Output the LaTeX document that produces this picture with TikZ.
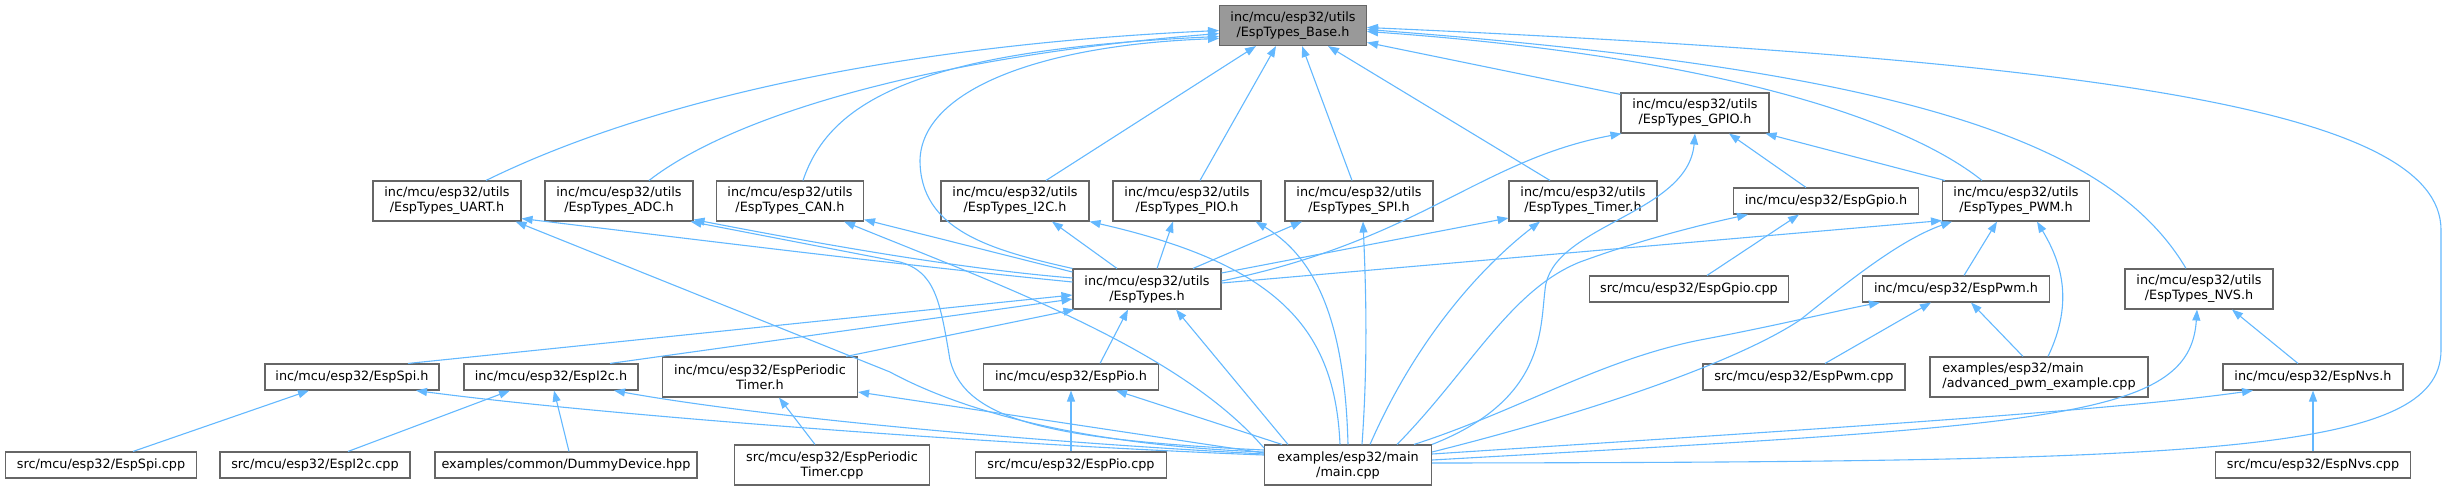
\documentclass[tikz,border=0pt]{standalone}
\usepackage{fontspec}
\setmainfont{DejaVu Sans}
\usetikzlibrary{arrows.meta}
\definecolor{boxline}{HTML}{666666}
\definecolor{basefill}{HTML}{999999}
\definecolor{edgeblue}{HTML}{63B8FF}

\begin{document}
\begin{tikzpicture}[x=1pt,y=-1pt,font=\fontsize{12.8}{15}\selectfont,f/.style={draw=boxline,line width=1.1pt,fill=white,align=center,inner xsep=2pt,inner ysep=0pt,minimum height=26pt},f2/.style={f,minimum height=40pt},e/.style={-{Triangle[length=11pt,width=8pt]},edgeblue,line width=1.1pt}]
\useasboundingbox (0,0) rectangle (2450,491);
\node[f2,fill=basefill,minimum width=147pt] (base) at (1293,25.5) {inc/mcu/esp32/utils\\/EspTypes\_Base.h};
\node[f2,minimum width=148pt] (gpio) at (1695,113) {inc/mcu/esp32/utils\\/EspTypes\_GPIO.h};
\node[f2,minimum width=148pt] (uart) at (447,201) {inc/mcu/esp32/utils\\/EspTypes\_UART.h};
\node[f2,minimum width=148pt] (adc) at (619,201) {inc/mcu/esp32/utils\\/EspTypes\_ADC.h};
\node[f2,minimum width=147pt] (can) at (790,201) {inc/mcu/esp32/utils\\/EspTypes\_CAN.h};
\node[f2,minimum width=148pt] (i2c) at (1015,201) {inc/mcu/esp32/utils\\/EspTypes\_I2C.h};
\node[f2,minimum width=148pt] (pio) at (1187,201) {inc/mcu/esp32/utils\\/EspTypes\_PIO.h};
\node[f2,minimum width=148pt] (spi) at (1359,201) {inc/mcu/esp32/utils\\/EspTypes\_SPI.h};
\node[f2,minimum width=148pt] (timer) at (1583,201) {inc/mcu/esp32/utils\\/EspTypes\_Timer.h};
\node[f,minimum width=185pt] (espgpio) at (1826,201) {inc/mcu/esp32/EspGpio.h};
\node[f2,minimum width=147pt] (pwm) at (2016,201) {inc/mcu/esp32/utils\\/EspTypes\_PWM.h};
\node[f2,minimum width=148pt] (types) at (1147,289) {inc/mcu/esp32/utils\\/EspTypes.h};
\node[f,minimum width=199pt] (gpiocpp) at (1689,289) {src/mcu/esp32/EspGpio.cpp};
\node[f,minimum width=187pt] (pwmh) at (1956,289) {inc/mcu/esp32/EspPwm.h};
\node[f2,minimum width=148pt] (nvs) at (2199,289) {inc/mcu/esp32/utils\\/EspTypes\_NVS.h};
\node[f,minimum width=174pt] (spih) at (352,377) {inc/mcu/esp32/EspSpi.h};
\node[f,minimum width=174pt] (i2ch) at (551,377) {inc/mcu/esp32/EspI2c.h};
\node[f2,minimum width=195pt] (ptimerh) at (760,377) {inc/mcu/esp32/EspPeriodic\\Timer.h};
\node[f,minimum width=175pt] (pioh) at (1071,377) {inc/mcu/esp32/EspPio.h};
\node[f,minimum width=202pt] (pwmcpp) at (1804,377) {src/mcu/esp32/EspPwm.cpp};
\node[f2,minimum width=218pt,align=left] (adv) at (2039,377) {examples/esp32/main\\/advanced\_pwm\_example.cpp};
\node[f,minimum width=180pt] (nvsh) at (2313,377) {inc/mcu/esp32/EspNvs.h};
\node[f,minimum width=191pt] (spicpp) at (101,465) {src/mcu/esp32/EspSpi.cpp};
\node[f,minimum width=190pt] (i2ccpp) at (315,465) {src/mcu/esp32/EspI2c.cpp};
\node[f,minimum width=262pt] (dummy) at (566,465) {examples/common/DummyDevice.hpp};
\node[f2,minimum width=195pt] (ptimercpp) at (832,465) {src/mcu/esp32/EspPeriodic\\Timer.cpp};
\node[f,minimum width=191pt] (piocpp) at (1071,465) {src/mcu/esp32/EspPio.cpp};
\node[f2,minimum width=167pt] (main) at (1348,465) {examples/esp32/main\\/main.cpp};
\node[f,minimum width=195pt] (nvscpp) at (2313,465) {src/mcu/esp32/EspNvs.cpp};
\draw[e] ([xshift=39pt]uart.north) .. controls (650,100) and (900,45) .. ([yshift=-5pt]base.west);
\draw[e] ([xshift=30pt]adc.north) .. controls (740,110) and (950,55) .. ([yshift=-8pt]base.west);
\draw[e] ([xshift=13pt]can.north) .. controls (830,100) and (920,50) .. ([yshift=-11pt]base.west);
\draw[e] (types.north west) .. controls (990,250) and (920,230) .. (920,160) .. controls (922,90) and (1040,45) .. ([yshift=-13pt]base.west);
\draw[e] ([xshift=31pt]i2c.north) -- ([xshift=-37pt]base.south);
\draw[e] ([xshift=13pt]pio.north) -- ([xshift=-17pt]base.south);
\draw[e] ([xshift=-7pt]spi.north) -- ([xshift=9pt]base.south);
\draw[e] ([xshift=-33pt]timer.north) -- ([xshift=35pt]base.south);
\draw[e] ([yshift=-2pt]gpio.north west) -- ([yshift=-17pt]base.east);
\draw[e] ([xshift=-34pt]pwm.north) .. controls (1900,115) and (1700,55) .. ([yshift=-6pt]base.east);
\draw[e] ([xshift=-13pt]nvs.north) .. controls (2110,140) and (1900,70) .. ([yshift=-4pt]base.east);
\draw[e] ([yshift=2pt]main.east) .. controls (2200,462) and (2441,455) .. (2441,350) -- (2441,230) .. controls (2441,110) and (2100,60) .. ([yshift=-2pt]base.east);
\draw[e] ([yshift=8pt]types.east) .. controls (1420,240) and (1480,160) .. ([xshift=1pt]gpio.south west);
\draw[e] (main.north east) .. controls (1545,400) and (1540,330) .. (1545,290) .. controls (1550,225) and (1688,215) .. (gpio.south);
\draw[e] ([xshift=-20pt]espgpio.north) -- ([xshift=34pt]gpio.south);
\draw[e] ([xshift=3pt]pwm.north west) -- ([xshift=-4pt]gpio.south east);
\draw[e] ([xshift=-35pt]main.north east) .. controls (1470,370) and (1510,290) .. (1580,262) .. controls (1640,240) and (1700,225) .. ([xshift=-78pt]espgpio.south);
\draw[e] ([xshift=18pt]gpiocpp.north) -- ([xshift=-27pt]espgpio.south);
\draw[e] ([yshift=6pt]types.east) -- ([yshift=1pt]pwm.south west);
\draw[e] ([yshift=13pt]main.east) .. controls (1600,410) and (1740,360) .. (1800,320) .. controls (1850,280) and (1900,240) .. ([xshift=10pt]pwm.south west);
\draw[e] ([xshift=8pt]pwmh.north) -- ([xshift=-19pt]pwm.south);
\draw[e] ([xshift=9pt]adv.north) .. controls (2075,300) and (2060,260) .. ([xshift=21pt]pwm.south);
\draw[e] ([xshift=-18pt]main.north east) .. controls (1520,410) and (1600,360) .. (1700,340) .. controls (1780,325) and (1840,310) .. ([xshift=-76pt]pwmh.south);
\draw[e] ([xshift=21pt]pwmcpp.north) -- ([xshift=-25pt]pwmh.south);
\draw[e] ([xshift=-16pt]adv.north) -- ([xshift=15pt]pwmh.south);
\draw[e] ([yshift=5pt]main.east) .. controls (2050,425) and (2190,420) .. ([xshift=-2pt]nvs.south);
\draw[e] ([xshift=-15pt]nvsh.north) -- ([xshift=33pt]nvs.south);
\draw[e] ([yshift=11pt]main.east) .. controls (1800,430) and (2100,412) .. ([xshift=-60pt]nvsh.south);
\draw[e] (nvscpp.north) -- (nvsh.south);
\draw[e] ([xshift=56pt]spih.north) -- ([yshift=-6pt]types.west);
\draw[e] ([xshift=59pt]i2ch.north) -- ([yshift=-10pt]types.west);
\draw[e] ([xshift=86pt]ptimerh.north) -- ([xshift=2pt]types.south west);
\draw[e] ([xshift=29pt]pioh.north) -- ([xshift=-19pt]types.south);
\draw[e] ([xshift=-60pt]main.north) -- ([xshift=29pt]types.south);
\draw[e] ([yshift=7pt]types.west) .. controls (900,265) and (700,240) .. ([yshift=3pt]uart.south east);
\draw[e] ([yshift=11pt]types.west) .. controls (950,268) and (800,240) .. ([yshift=2pt]adc.south east);
\draw[e] ([yshift=17pt]types.west) -- ([yshift=2pt]can.south east);
\draw[e] ([xshift=-30pt]types.north) -- ([xshift=37pt]i2c.south);
\draw[e] ([xshift=10pt]types.north) -- ([xshift=-14pt]pio.south);
\draw[e] ([xshift=46pt]types.north) -- ([xshift=-57pt]spi.south);
\draw[e] ([yshift=16pt]types.east) -- ([yshift=-17pt]timer.west);
\draw[e] ([yshift=13pt]main.west) .. controls (1080,445) and (960,410) .. (890,372) -- ([xshift=-6pt]uart.south east);
\draw[e] ([yshift=15pt]main.west) .. controls (1050,440) and (965,420) .. (950,360) .. controls (940,300) and (935,272) .. (900,262) -- ([xshift=-3pt]adc.south east);
\draw[e] ([yshift=17pt]main.west) .. controls (1180,350) and (1000,285) .. ([xshift=-20pt]can.south east);
\draw[e] ([xshift=-8pt]main.north) .. controls (1335,330) and (1280,265) .. (i2c.south east);
\draw[e] (main.north) .. controls (1345,330) and (1320,260) .. ([xshift=-6pt]pio.south east);
\draw[e] ([xshift=14pt]main.north) .. controls (1368,360) and (1366,290) .. ([xshift=4pt]spi.south);
\draw[e] ([xshift=22pt]main.north) .. controls (1420,330) and (1490,260) .. ([xshift=-43pt]timer.south);
\draw[e] ([yshift=10pt]main.west) .. controls (1000,445) and (600,415) .. ([xshift=64pt]spih.south);
\draw[e] ([yshift=11pt]main.west) .. controls (1000,440) and (750,415) .. ([xshift=63pt]i2ch.south);
\draw[e] ([yshift=12pt]main.west) -- ([yshift=-15pt]ptimerh.east);
\draw[e] ([xshift=-66pt]main.north) -- ([xshift=45pt]pioh.south);
\draw[e] ([xshift=32pt]spicpp.north) -- ([xshift=-43pt]spih.south);
\draw[e] ([xshift=33pt]i2ccpp.north) -- ([xshift=-41pt]i2ch.south);
\draw[e] ([xshift=3pt]dummy.north) -- ([xshift=3pt]i2ch.south);
\draw[e] ([xshift=-17pt]ptimercpp.north) -- ([xshift=19pt]ptimerh.south);
\draw[e] (piocpp.north) -- (pioh.south);
\end{tikzpicture}
\end{document}
